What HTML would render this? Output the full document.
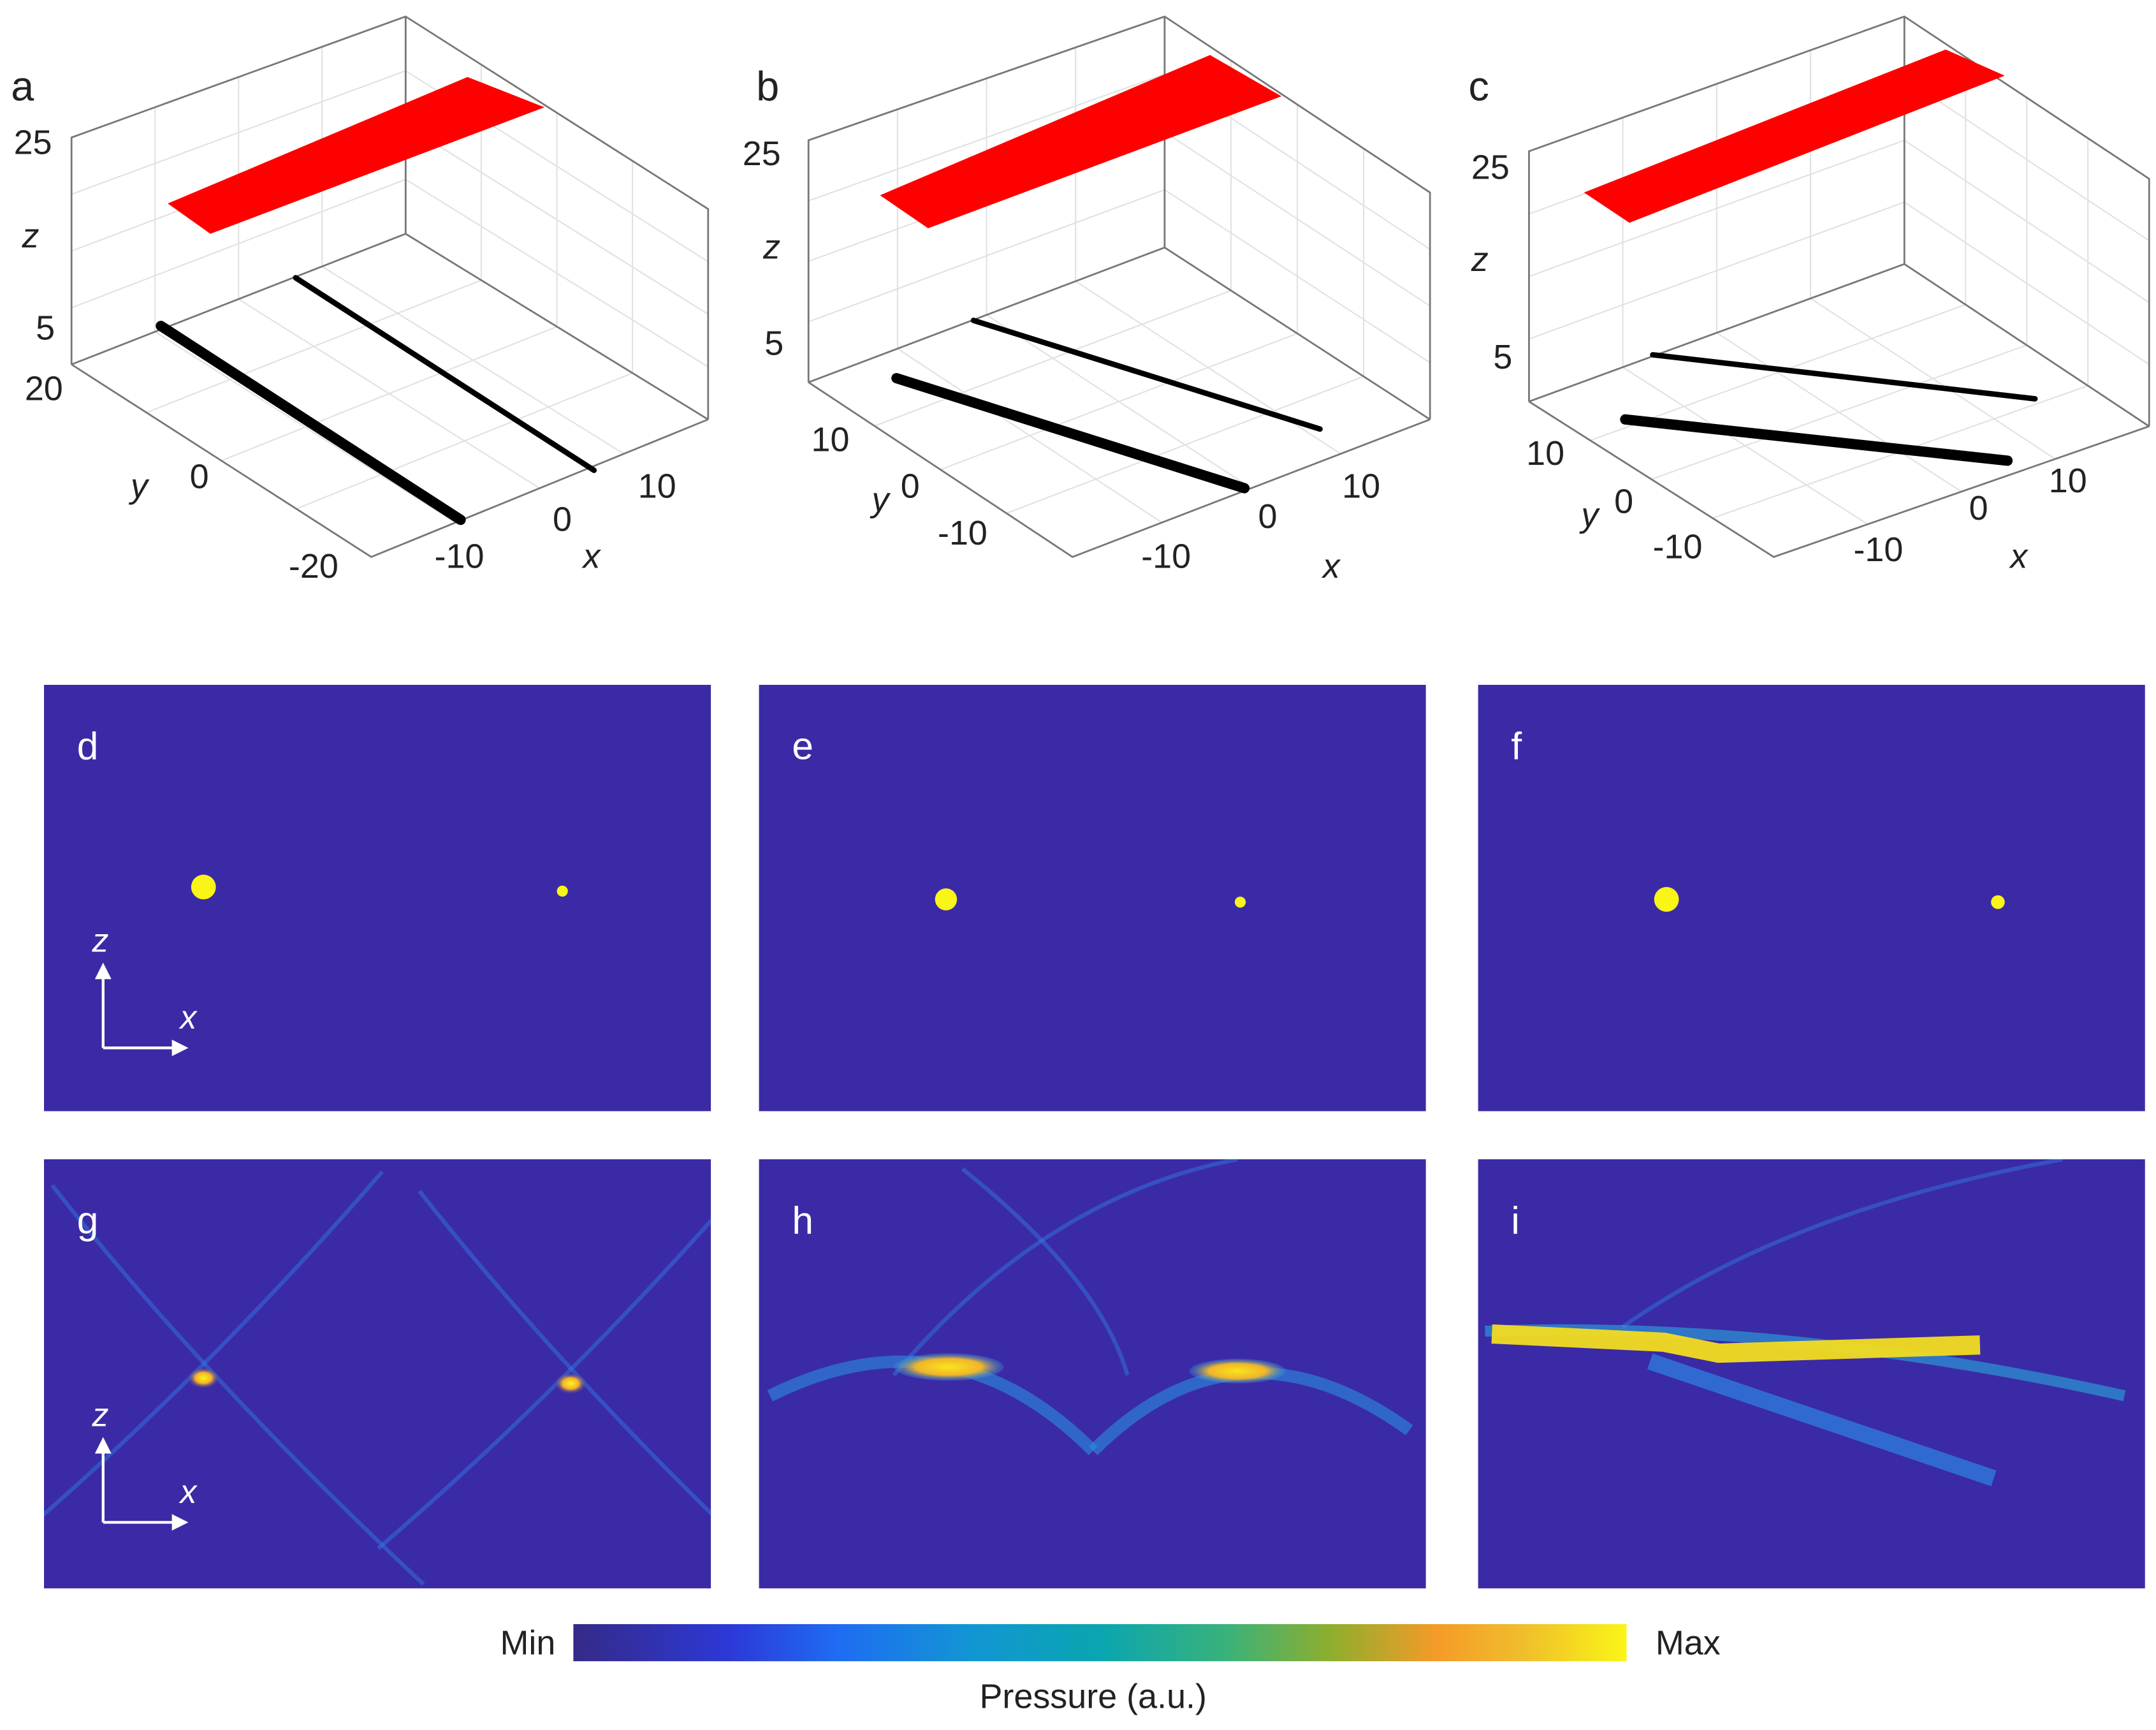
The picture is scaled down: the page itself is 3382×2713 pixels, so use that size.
<!DOCTYPE html>
<html><head><meta charset="utf-8"><style>
html,body{margin:0;padding:0;background:#fff;}
svg{display:block;}
text{font-family:"Liberation Sans",sans-serif;}
</style></head><body>
<svg id="fig" width="3382" height="2713" viewBox="0 0 1568 1258" preserveAspectRatio="none" xmlns="http://www.w3.org/2000/svg">
<defs>
<linearGradient id="parula" x1="0" x2="1" y1="0" y2="0">
<stop offset="0" stop-color="#352a87"/><stop offset="0.15" stop-color="#2c39d8"/>
<stop offset="0.25" stop-color="#1f6cf2"/><stop offset="0.38" stop-color="#1296d3"/>
<stop offset="0.5" stop-color="#0aa5b0"/><stop offset="0.62" stop-color="#39b27b"/>
<stop offset="0.72" stop-color="#8fae2d"/><stop offset="0.82" stop-color="#f59b28"/>
<stop offset="0.9" stop-color="#f0bd2c"/><stop offset="1" stop-color="#f9f516"/>
</linearGradient>
<radialGradient id="hot"><stop offset="0" stop-color="#f9f516"/><stop offset="0.5" stop-color="#f3b12a"/><stop offset="1" stop-color="#3b2aa5" stop-opacity="0"/></radialGradient>
<radialGradient id="hot2"><stop offset="0" stop-color="#f9e51c"/><stop offset="0.6" stop-color="#f0b52a"/><stop offset="1" stop-color="#2a8fe0" stop-opacity="0.3"/></radialGradient>
</defs>
<g id="plots3d"></g>
<g id="maps"></g>
<g>
<rect x="417" y="1181" width="766" height="27" fill="url(#parula)"/>
<text x="404" y="1203" font-size="25" text-anchor="end" fill="#222">Min</text>
<text x="1204" y="1203" font-size="25" fill="#222">Max</text>
<text x="795" y="1242" font-size="25" text-anchor="middle" fill="#222">Pressure (a.u.)</text>
</g>
</svg>
<script>
const NS="http://www.w3.org/2000/svg";
function mk(p,tag,at){const e=document.createElementNS(NS,tag);for(const k in at)e.setAttribute(k,at[k]);p.appendChild(e);return e;}
const boxes=[
 {L:[52,100,265],B:[295,12,170],R:[515,152,305],F:[270,405],label:"a"},
 {L:[588,102,278],B:[847,12,180],R:[1040,140,305],F:[780,405],label:"b"},
 {L:[1112,110,292],B:[1385,12,192],R:[1563,130,310],F:[1290,405],label:"c"}];
const redPlanes=[[[122,148],[340,56],[396,78],[153,170]],[[640,142],[880,40],[932,70],[675,166]],[[1152,140],[1415,36],[1458,55],[1185,162]]];
const thickLines=[[117,237,335,378],[652,275,905,355],[1182,305,1460,335]];
const thinLines=[[215,202,432,342],[708,233,960,312],[1202,258,1480,290]];
const tickLabels=[
 [["a",8,73,30],["25",10,112,25],["z",16,180,25],["5",26,247,25],["20",18,291,25],["y",95,362,25],["0",138,355,25],["-20",210,420,25],["-10",316,413,25],["0",402,386,25],["10",464,362,25],["x",424,413,25]],
 [["b",550,73,30],["25",540,120,25],["z",555,188,25],["5",556,258,25],["10",590,328,25],["y",634,372,25],["0",655,362,25],["-10",682,396,25],["-10",830,413,25],["0",915,384,25],["10",976,362,25],["x",962,420,25]],
 [["c",1068,73,30],["25",1070,130,25],["z",1070,197,25],["5",1086,268,25],["10",1110,338,25],["y",1150,383,25],["0",1174,373,25],["-10",1202,406,25],["-10",1348,408,25],["0",1432,378,25],["10",1490,358,25],["x",1462,413,25]]];
const g3=document.getElementById("plots3d");
boxes.forEach((b,i)=>{
 const g=mk(g3,"g",{});
 
 
 const gs={stroke:"#e2e2e2","stroke-width":1};
 for(let t=1;t<4;t++){const f=t/4;
  mk(g,"line",Object.assign({x1:b.L[0]+(b.B[0]-b.L[0])*f,y1:b.L[1]+(b.B[1]-b.L[1])*f,x2:b.L[0]+(b.B[0]-b.L[0])*f,y2:b.L[2]+(b.B[2]-b.L[2])*f},gs));
  mk(g,"line",Object.assign({x1:b.B[0]+(b.R[0]-b.B[0])*f,y1:b.B[1]+(b.R[1]-b.B[1])*f,x2:b.B[0]+(b.R[0]-b.B[0])*f,y2:b.B[2]+(b.R[2]-b.B[2])*f},gs));
  mk(g,"line",Object.assign({x1:b.L[0],y1:b.L[1]+(b.L[2]-b.L[1])*f,x2:b.B[0],y2:b.B[1]+(b.B[2]-b.B[1])*f},gs));
  mk(g,"line",Object.assign({x1:b.B[0],y1:b.B[1]+(b.B[2]-b.B[1])*f,x2:b.R[0],y2:b.R[1]+(b.R[2]-b.R[1])*f},gs));
  mk(g,"line",Object.assign({x1:b.L[0]+(b.F[0]-b.L[0])*f,y1:b.L[2]+(b.F[1]-b.L[2])*f,x2:b.B[0]+(b.R[0]-b.B[0])*f,y2:b.B[2]+(b.R[2]-b.B[2])*f},gs));
  mk(g,"line",Object.assign({x1:b.F[0]+(b.R[0]-b.F[0])*f,y1:b.F[1]+(b.R[2]-b.F[1])*f,x2:b.L[0]+(b.B[0]-b.L[0])*f,y2:b.L[2]+(b.B[2]-b.L[2])*f},gs));
 }
 const es={stroke:"#777","stroke-width":1.3,fill:"none"};
 mk(g,"polyline",Object.assign({points:`${b.L[0]},${b.L[2]} ${b.L[0]},${b.L[1]} ${b.B[0]},${b.B[1]} ${b.R[0]},${b.R[1]} ${b.R[0]},${b.R[2]}`},es));
 mk(g,"polyline",Object.assign({points:`${b.L[0]},${b.L[2]} ${b.B[0]},${b.B[2]} ${b.R[0]},${b.R[2]}`},es));
 mk(g,"line",Object.assign({x1:b.B[0],y1:b.B[1],x2:b.B[0],y2:b.B[2]},es));
 mk(g,"polyline",Object.assign({points:`${b.L[0]},${b.L[2]} ${b.F[0]},${b.F[1]} ${b.R[0]},${b.R[2]}`},es));
 const rp=mk(g,"polygon",{points:redPlanes[i].map(p=>p.join(",")).join(" "),fill:"#ff0000"});
 
 
 const tl=thickLines[i],nl=thinLines[i];
 const l1=mk(g,"line",{x1:tl[0],y1:tl[1],x2:tl[2],y2:tl[3],stroke:"#000","stroke-width":7.5,"stroke-linecap":"round"});
 
 
 const l2=mk(g,"line",{x1:nl[0],y1:nl[1],x2:nl[2],y2:nl[3],stroke:"#000","stroke-width":4,"stroke-linecap":"round"});
 
 
 tickLabels[i].forEach(t=>{
  const it=/^[xyz]$/.test(t[0]);
  const e=mk(g,"text",{x:t[1],y:t[2],"font-size":t[3],fill:"#222","font-style":it?"italic":"normal"});
  e.textContent=t[0];
  
  
 });
});
const mapX=[32,552,1075];const mapW=485;
const rowsY=[498,843];const mapH=[310,312];
const mapLabels=[["d","e","f"],["g","h","i"]];
const spotX=[[148,409],[688,902],[1212,1453]];
const spotY=[[645,648],[654,656],[654,656]];
const spotR=[[9,4],[8,4],[9,5]];
const gm=document.getElementById("maps");
const BG="#3b2aa5";
for(let r=0;r<2;r++)for(let c=0;c<3;c++){
 const g=mk(gm,"g",{});
 
 
 mk(g,"rect",{x:mapX[c],y:rowsY[r],width:mapW,height:mapH[r],fill:BG});
 const cp="cl"+r+c;const cpe=mk(g,"clipPath",{id:cp});mk(cpe,"rect",{x:mapX[c],y:rowsY[r],width:mapW,height:mapH[r]});
 const inner=mk(g,"g",{"clip-path":`url(#${cp})`});
 if(r==0){
  for(let k=0;k<2;k++){
   const s=mk(inner,"circle",{cx:spotX[c][k],cy:spotY[c][k],r:spotR[c][k],fill:"#f9f516"});
   
   
  }
 } else {
  const cs={fill:"none",stroke:"#2f7fe8","stroke-width":3,opacity:0.45};
  if(c==0){
   [[148,1002],[415,1006]].forEach(([x,y])=>{
    mk(inner,"path",Object.assign({d:`M${x-110},${y-140} Q${x},${y} ${x+160},${y+150}`},cs));
    mk(inner,"path",Object.assign({d:`M${x+130},${y-150} Q${x},${y} ${x-140},${y+120}`},cs));
    mk(inner,"ellipse",{cx:x,cy:y,rx:12,ry:8,fill:"url(#hot)"});
   });
  } else if(c==1){
   mk(inner,"path",Object.assign({d:"M560,1015 Q690,950 795,1055"},cs,{"stroke-width":9,stroke:"#2a8fe0",opacity:0.6}));
   mk(inner,"path",Object.assign({d:"M795,1055 Q900,950 1025,1040"},cs,{"stroke-width":9,stroke:"#2a8fe0",opacity:0.6}));
   mk(inner,"path",Object.assign({d:"M650,1000 Q760,870 900,843"},cs));
   mk(inner,"path",Object.assign({d:"M700,850 Q800,930 820,1000"},cs));
   mk(inner,"ellipse",{cx:690,cy:994,rx:40,ry:10,fill:"url(#hot2)"});
   mk(inner,"ellipse",{cx:900,cy:997,rx:35,ry:9,fill:"url(#hot2)"});
  } else {
   mk(inner,"path",Object.assign({d:"M1180,965 Q1300,880 1500,843"},cs));
   mk(inner,"path",Object.assign({d:"M1200,990 L1450,1075"},cs,{"stroke-width":12,stroke:"#2b8de8",opacity:0.65}));
   mk(inner,"path",Object.assign({d:"M1080,968 Q1300,960 1545,1015"},cs,{"stroke-width":8,stroke:"#2aa0d8",opacity:0.65}));
   mk(inner,"path",{d:"M1085,970 L1210,976 L1250,984 L1440,978",fill:"none",stroke:"#f2dc20","stroke-width":14,opacity:0.95});
  }
 }
 const t=mk(g,"text",{x:mapX[c]+24,y:rowsY[r]+54,"font-size":28,fill:"#fff"});
 t.textContent=mapLabels[r][c];
 
 
 if(c==0){
  const ox=75,oy=rowsY[r]+264;
  const ax=mk(g,"g",{});
  
  
  mk(ax,"path",{d:`M${ox},${oy} L${ox},${oy-52} M${ox},${oy} L${ox+52},${oy}`,stroke:"#fff","stroke-width":2,fill:"none"});
  mk(ax,"polygon",{points:`${ox-6},${oy-50} ${ox+6},${oy-50} ${ox},${oy-62}`,fill:"#fff"});
  mk(ax,"polygon",{points:`${ox+50},${oy-6} ${ox+50},${oy+6} ${ox+62},${oy}`,fill:"#fff"});
  const z=mk(ax,"text",{x:ox-8,y:oy-70,"font-size":24,"font-style":"italic",fill:"#fff"});z.textContent="z";
  const x=mk(ax,"text",{x:ox+56,y:oy-14,"font-size":24,"font-style":"italic",fill:"#fff"});x.textContent="x";
 }
}
</script>
</body></html>
